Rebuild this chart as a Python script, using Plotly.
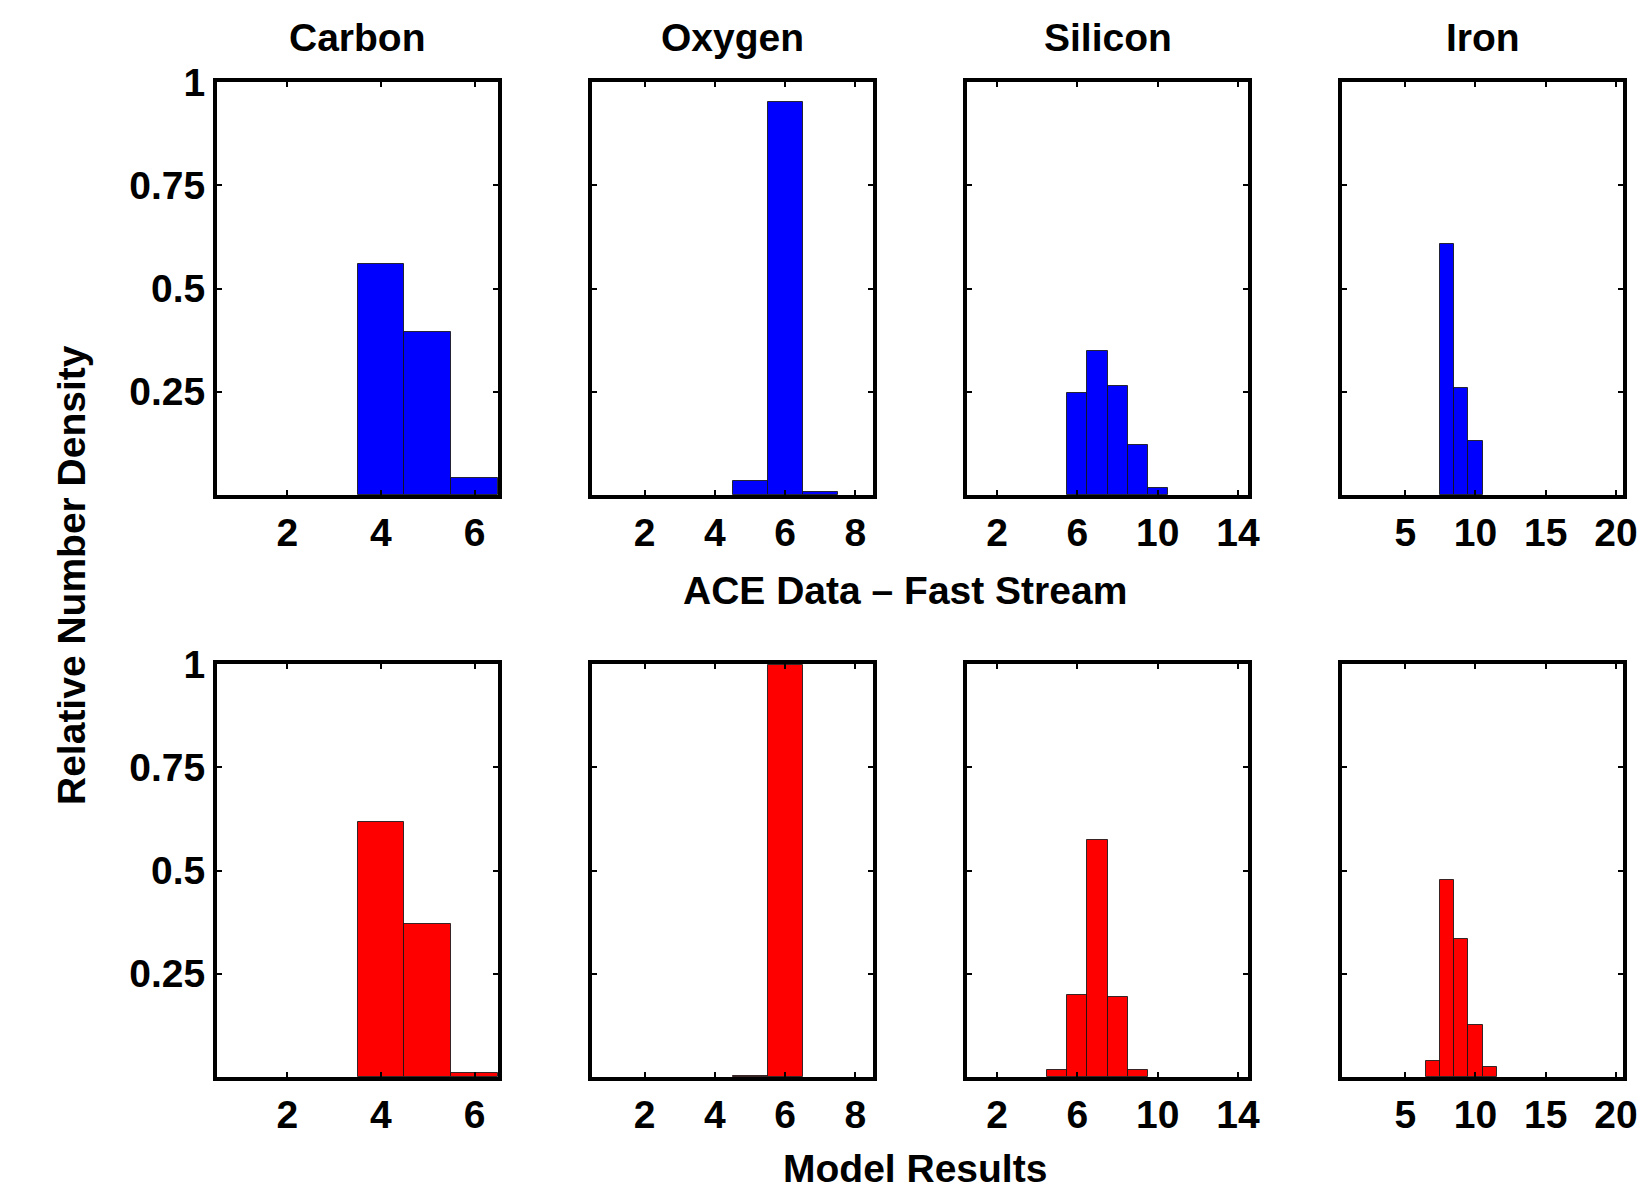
import plotly.graph_objects as go

# Charge-state distributions for four elements
elements = ["Carbon", "Oxygen", "Silicon", "Iron"]
x_ranges = [(0.5, 6.5), (0.5, 8.5), (0.5, 14.5), (0.5, 20.5)]
x_tickvals = [[2, 4, 6], [2, 4, 6, 8], [2, 6, 10, 14], [5, 10, 15, 20]]
y_tickvals = [0.25, 0.5, 0.75, 1]
y_ticktext = ["0.25", "0.5", "0.75", "1"]

# ACE data, fast solar wind stream
ace_charge = [[4, 5, 6], [5, 6, 7], [6, 7, 8, 9, 10], [8, 9, 10]]
ace_density = [
    [0.56, 0.395, 0.04],
    [0.034, 0.952, 0.008],
    [0.247, 0.349, 0.263, 0.122, 0.017],
    [0.607, 0.258, 0.13],
]

# Model results
model_charge = [[4, 5, 6], [5, 6], [5, 6, 7, 8, 9], [7, 8, 9, 10, 11]]
model_density = [
    [0.617, 0.371, 0.01],
    [0.003, 0.998],
    [0.017, 0.199, 0.574, 0.194, 0.018],
    [0.038, 0.476, 0.333, 0.127, 0.024],
]

W, H = 1644, 1194
FONT = "Liberation Sans, Arial, Helvetica, sans-serif"
FS = 39

# panel frames in pixels (left, right) and (top, bottom)
col_px = [(217, 498), (592, 873), (967, 1248), (1342, 1623)]
row_px = [(82, 495), (664, 1077)]

fig = go.Figure()


def xdom(c):
    return [col_px[c][0] / W, col_px[c][1] / W]


def ydom(r):
    return [1 - row_px[r][1] / H, 1 - row_px[r][0] / H]


rows = [(ace_charge, ace_density, "#0000FF"), (model_charge, model_density, "#FF0000")]
layout = {}
for r, (charges, dens, color) in enumerate(rows):
    for c in range(4):
        k = r * 4 + c + 1
        suffix = "" if k == 1 else str(k)
        fig.add_trace(go.Bar(
            x=charges[c], y=dens[c], width=1,
            marker=dict(color=color, line=dict(color="rgba(20,20,20,0.85)", width=1)),
            xaxis="x" + suffix, yaxis="y" + suffix,
            showlegend=False, hoverinfo="x+y",
        ))
        layout["xaxis" + suffix] = dict(
            domain=xdom(c), anchor="y" + suffix, range=list(x_ranges[c]),
            tickvals=x_tickvals[c], ticks="inside", ticklen=5, tickwidth=2,
            tickcolor="black", showline=True, linewidth=4, linecolor="black",
            mirror="allticks", showgrid=False, zeroline=False, automargin=False,
            tickfont=dict(family=FONT, size=FS, color="black", weight="bold"),
            ticklabelstandoff=0, fixedrange=True,
        )
        layout["yaxis" + suffix] = dict(
            domain=ydom(r), anchor="x" + suffix, range=[0, 1],
            tickvals=y_tickvals, ticktext=y_ticktext, showticklabels=(c == 0),
            ticks="inside", ticklen=5, tickwidth=2, tickcolor="black",
            showline=True, linewidth=4, linecolor="black", mirror="allticks",
            showgrid=False, zeroline=False, automargin=False,
            tickfont=dict(family=FONT, size=FS, color="black", weight="bold"),
            ticklabelstandoff=0, fixedrange=True,
        )

annotations = []
for c, name in enumerate(elements):
    annotations.append(dict(
        text=name, x=(col_px[c][0] + col_px[c][1]) / 2 / W, y=1 - 37 / H,
        xref="paper", yref="paper", showarrow=False, xanchor="center", yanchor="middle",
        font=dict(family=FONT, size=FS, color="black", weight="bold"),
    ))
annotations.append(dict(
    text="ACE Data \u2013 Fast Stream", x=905 / W, y=1 - 590 / H,
    xref="paper", yref="paper", showarrow=False, xanchor="center", yanchor="middle",
    font=dict(family=FONT, size=FS, color="black", weight="bold"),
))
annotations.append(dict(
    text="Model Results", x=915 / W, y=1 - 1168 / H,
    xref="paper", yref="paper", showarrow=False, xanchor="center", yanchor="middle",
    font=dict(family=FONT, size=FS, color="black", weight="bold"),
))
annotations.append(dict(
    text="Relative Number Density", x=71 / W, y=1 - 575 / H, textangle=-90,
    xref="paper", yref="paper", showarrow=False, xanchor="center", yanchor="middle",
    font=dict(family=FONT, size=FS, color="black", weight="bold"),
))

fig.update_layout(
    width=W, height=H, margin=dict(l=0, r=0, t=0, b=0, autoexpand=False),
    paper_bgcolor="white", plot_bgcolor="white",
    bargap=0, annotations=annotations, **layout,
)

fig.write_html("out.html")
